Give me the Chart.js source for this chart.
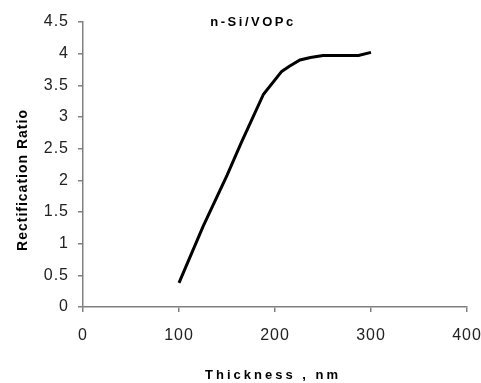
<!DOCTYPE html>
<html>
<head>
<meta charset="utf-8">
<script src="https://cdn.jsdelivr.net/npm/chart.js@4.4.0/dist/chart.umd.min.js"></script>
<style>
  html, body { margin: 0; padding: 0; background: #fff; }
  #wrap { width: 481px; height: 383px; }
</style>
</head>
<body>
<div id="wrap"><canvas id="mycanvas"></canvas></div>
<script>
// values
const thickness = [100, 125, 150, 165, 188, 207, 215, 226, 237, 250, 287, 300];
const ratio = [0.38, 1.27, 2.08, 2.6, 3.36, 3.72, 3.8, 3.9, 3.94, 3.97, 3.97, 4.02];
const xTicks = [0, 100, 200, 300, 400];
const yTicks = [0, 0.5, 1, 1.5, 2, 2.5, 3, 3.5, 4, 4.5];

const chartTitle = 'n-Si/VOPc';
const xTitle = 'Thickness , nm';
const yTitle = 'Rectification Ratio';

function createChart() {
    const ctx = document.getElementById('mycanvas').getContext('2d');

    // titles drawn by hand so the letter spacing can match
    const titles = {
        id: 'titles',
        beforeDraw: chart => {
            chart.ctx.letterSpacing = '1px';
        },
        afterDraw: chart => {
            const c = chart.ctx;
            const area = chart.chartArea;
            c.save();
            c.fillStyle = '#000';
            c.textAlign = 'center';
            c.textBaseline = 'middle';
            c.font = 'bold 13px "Liberation Sans", Arial, sans-serif';
            c.letterSpacing = '2.5px';
            c.fillText(chartTitle, area.left + 170, area.top);
            c.letterSpacing = '3px';
            c.fillText(xTitle, area.left + 190, chart.height - 8);
            c.translate(23, area.top + 158);
            c.rotate(-Math.PI / 2);
            c.font = 'bold 14px "Liberation Sans", Arial, sans-serif';
            c.letterSpacing = '1px';
            c.fillText(yTitle, 0, 0);
            c.restore();
        }
    };

    new Chart(ctx, {
        type: 'line',
        data: {
            datasets: [{
                data: thickness.map((t, i) => ({ x: t, y: ratio[i] })),
                borderColor: '#000',
                borderWidth: 3,
                pointRadius: 0,
                tension: 0,
                fill: false,
            }]
        },
        options: {
            responsive: true,
            maintainAspectRatio: false,
            animation: false,
            layout: { padding: { top: 22, right: 0, left: 0, bottom: 0 } },
            plugins: {
                legend: { display: false },
                tooltip: { enabled: false },
            },
            scales: {
                x: {
                    type: 'linear',
                    min: 0,
                    max: 400,
                    afterBuildTicks: axis => { axis.ticks = xTicks.map(v => ({ value: v })); },
                    afterFit: axis => {
                        axis.height = 76;
                        axis.paddingLeft = 0;
                        axis.paddingRight = 14;
                    },
                    grid: { drawOnChartArea: false, drawTicks: true, tickLength: 5, color: '#808080', lineWidth: 1.5 },
                    border: { display: true, color: '#808080', width: 1.5 },
                    ticks: {
                        color: '#222',
                        padding: 14,
                        maxRotation: 0,
                        callback: v => String(v),
                        font: { family: '"Liberation Sans", Arial, sans-serif', size: 16 },
                    },
                },
                y: {
                    min: 0,
                    max: 4.5,
                    afterBuildTicks: axis => { axis.ticks = yTicks.map(v => ({ value: v })); },
                    afterFit: axis => { axis.width = 83; },
                    grid: { drawOnChartArea: false, drawTicks: true, tickLength: 5, color: '#808080', lineWidth: 1.5 },
                    border: { display: true, color: '#808080', width: 1.5 },
                    ticks: {
                        color: '#222',
                        padding: 9,
                        callback: v => String(v),
                        font: { family: '"Liberation Sans", Arial, sans-serif', size: 16 },
                    },
                },
            },
        },
        plugins: [titles],
    });
}

createChart();
</script>
</body>
</html>
